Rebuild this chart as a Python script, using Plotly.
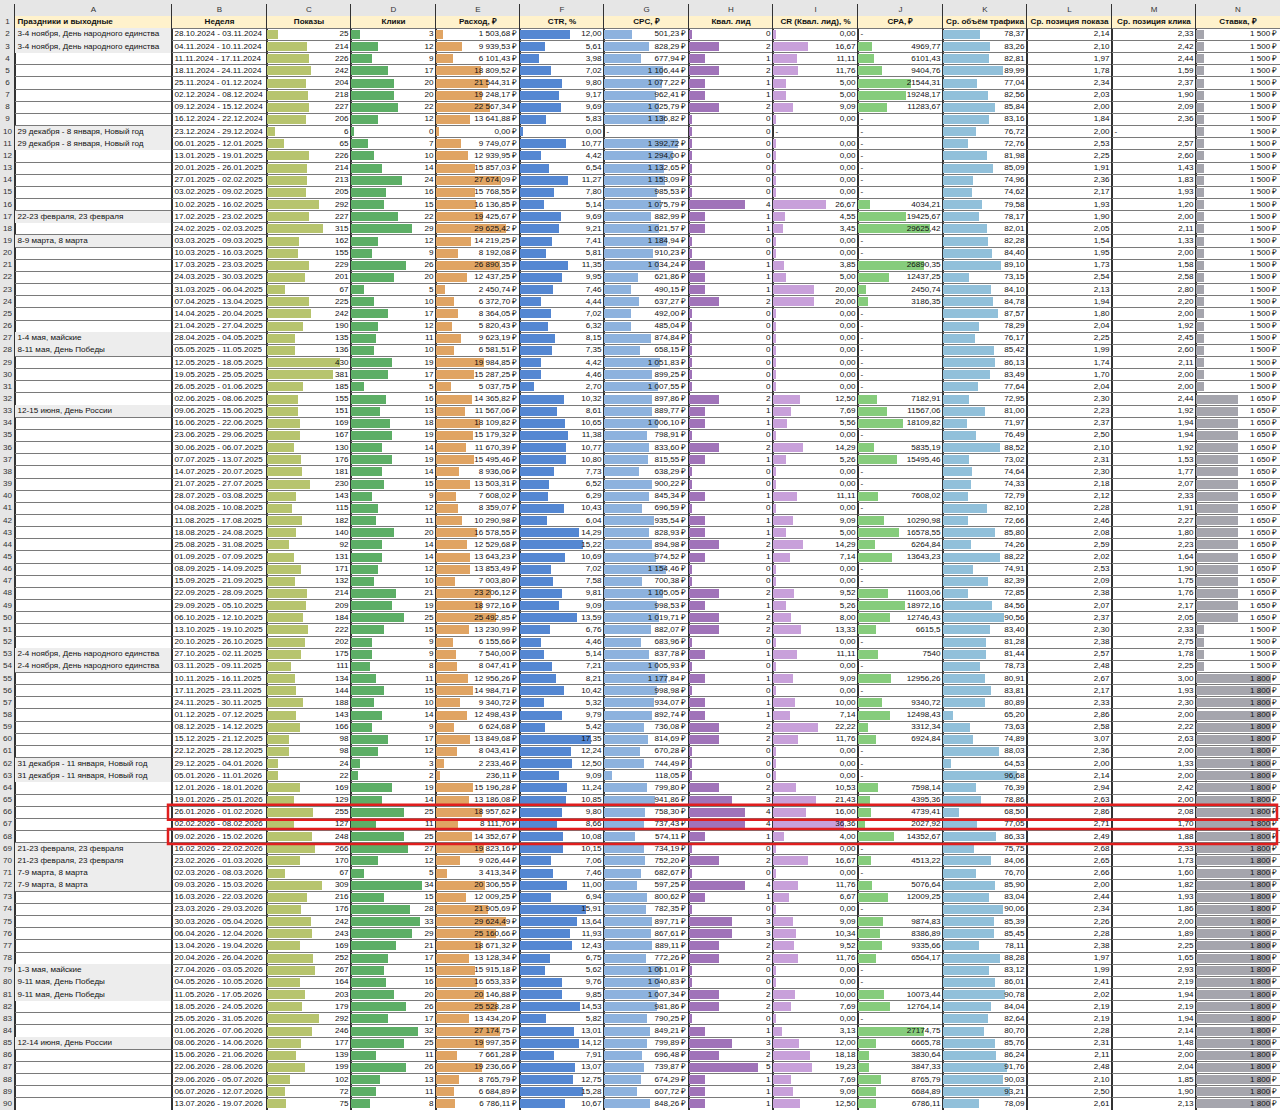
import plotly.graph_objects as go

# spreadsheet rows 2..90
rows = list(range(2, 91))

holidays = {
    2: "3-4 ноября, День народного единства",
    3: "3-4 ноября, День народного единства",
    10: "29 декабря - 8 января, Новый год",
    11: "29 декабря - 8 января, Новый год",
    17: "22-23 февраля, 23 февраля",
    19: "8-9 марта, 8 марта",
    27: "1-4 мая, майские",
    28: "8-11 мая, День Победы",
    33: "12-15 июня, День России",
    53: "2-4 ноября, День народного единства",
    54: "2-4 ноября, День народного единства",
    62: "31 декабря - 11 января, Новый год",
    63: "31 декабря - 11 января, Новый год",
    69: "21-23 февраля, 23 февраля",
    70: "21-23 февраля, 23 февраля",
    71: "7-9 марта, 8 марта",
    72: "7-9 марта, 8 марта",
    79: "1-3 мая, майские",
    80: "9-11 мая, День Победы",
    81: "9-11 мая, День Победы",
    85: "12-14 июня, День России",
}

weeks = [
    "28.10.2024 - 03.11.2024", "04.11.2024 - 10.11.2024", "11.11.2024 - 17.11.2024",
    "18.11.2024 - 24.11.2024", "25.11.2024 - 01.12.2024", "02.12.2024 - 08.12.2024",
    "09.12.2024 - 15.12.2024", "16.12.2024 - 22.12.2024", "23.12.2024 - 29.12.2024",
    "06.01.2025 - 12.01.2025", "13.01.2025 - 19.01.2025", "20.01.2025 - 26.01.2025",
    "27.01.2025 - 02.02.2025", "03.02.2025 - 09.02.2025", "10.02.2025 - 16.02.2025",
    "17.02.2025 - 23.02.2025", "24.02.2025 - 02.03.2025", "03.03.2025 - 09.03.2025",
    "10.03.2025 - 16.03.2025", "17.03.2025 - 23.03.2025", "24.03.2025 - 30.03.2025",
    "31.03.2025 - 06.04.2025", "07.04.2025 - 13.04.2025", "14.04.2025 - 20.04.2025",
    "21.04.2025 - 27.04.2025", "28.04.2025 - 04.05.2025", "05.05.2025 - 11.05.2025",
    "12.05.2025 - 18.05.2025", "19.05.2025 - 25.05.2025", "26.05.2025 - 01.06.2025",
    "02.06.2025 - 08.06.2025", "09.06.2025 - 15.06.2025", "16.06.2025 - 22.06.2025",
    "23.06.2025 - 29.06.2025", "30.06.2025 - 06.07.2025", "07.07.2025 - 13.07.2025",
    "14.07.2025 - 20.07.2025", "21.07.2025 - 27.07.2025", "28.07.2025 - 03.08.2025",
    "04.08.2025 - 10.08.2025", "11.08.2025 - 17.08.2025", "18.08.2025 - 24.08.2025",
    "25.08.2025 - 31.08.2025", "01.09.2025 - 07.09.2025", "08.09.2025 - 14.09.2025",
    "15.09.2025 - 21.09.2025", "22.09.2025 - 28.09.2025", "29.09.2025 - 05.10.2025",
    "06.10.2025 - 12.10.2025", "13.10.2025 - 19.10.2025", "20.10.2025 - 26.10.2025",
    "27.10.2025 - 02.11.2025", "03.11.2025 - 09.11.2025", "10.11.2025 - 16.11.2025",
    "17.11.2025 - 23.11.2025", "24.11.2025 - 30.11.2025", "01.12.2025 - 07.12.2025",
    "08.12.2025 - 14.12.2025", "15.12.2025 - 21.12.2025", "22.12.2025 - 28.12.2025",
    "29.12.2025 - 04.01.2026", "05.01.2026 - 11.01.2026", "12.01.2026 - 18.01.2026",
    "19.01.2026 - 25.01.2026", "26.01.2026 - 01.02.2026", "02.02.2026 - 08.02.2026",
    "09.02.2026 - 15.02.2026", "16.02.2026 - 22.02.2026", "23.02.2026 - 01.03.2026",
    "02.03.2026 - 08.03.2026", "09.03.2026 - 15.03.2026", "16.03.2026 - 22.03.2026",
    "23.03.2026 - 29.03.2026", "30.03.2026 - 05.04.2026", "06.04.2026 - 12.04.2026",
    "13.04.2026 - 19.04.2026", "20.04.2026 - 26.04.2026", "27.04.2026 - 03.05.2026",
    "04.05.2026 - 10.05.2026", "11.05.2026 - 17.05.2026", "18.05.2026 - 24.05.2026",
    "25.05.2026 - 31.05.2026", "01.06.2026 - 07.06.2026", "08.06.2026 - 14.06.2026",
    "15.06.2026 - 21.06.2026", "22.06.2026 - 28.06.2026", "29.06.2026 - 05.07.2026",
    "06.07.2026 - 12.07.2026", "13.07.2026 - 19.07.2026",
]

shows = [25, 214, 226, 242, 204, 218, 227, 206, 6, 65,
         226, 214, 213, 205, 292, 227, 315, 162, 155, 229,
         201, 67, 225, 242, 190, 135, 136, 430, 381, 185,
         155, 151, 169, 167, 130, 176, 181, 230, 143, 115,
         182, 140, 92, 131, 171, 132, 214, 209, 184, 222,
         202, 175, 111, 134, 144, 188, 143, 166, 98, 98,
         24, 22, 169, 129, 255, 127, 248, 266, 170, 67,
         309, 216, 176, 242, 243, 169, 252, 267, 164, 203,
         179, 292, 246, 177, 139, 199, 102, 72, 75]

clicks = [3, 12, 9, 17, 20, 20, 22, 12, 0, 7,
          10, 14, 24, 16, 15, 22, 29, 12, 9, 26,
          20, 5, 10, 17, 12, 11, 10, 19, 17, 5,
          16, 13, 18, 19, 14, 19, 14, 15, 9, 12,
          11, 20, 14, 14, 12, 10, 21, 19, 25, 15,
          9, 9, 8, 11, 15, 10, 14, 9, 17, 12,
          3, 2, 19, 14, 25, 11, 25, 27, 12, 5,
          34, 15, 28, 33, 29, 21, 17, 15, 16, 20,
          26, 17, 32, 25, 11, 26, 13, 11, 8]

cost = [1503.68, 9939.53, 6101.43, 18809.52, 21544.31, 19248.17, 22567.34, 13641.88, 0.00, 9749.07,
        12939.95, 15857.03, 27674.09, 15768.55, 16136.85, 19425.67, 29625.42, 14219.25, 8192.08, 26890.35,
        12437.25, 2450.74, 6372.70, 8364.05, 5820.43, 9623.19, 6581.51, 19984.85, 15287.25, 5037.75,
        14365.82, 11567.06, 18109.82, 15179.32, 11670.39, 15495.46, 8936.06, 13503.31, 7608.02, 8359.07,
        10290.98, 16578.55, 12529.68, 13643.23, 13853.49, 7003.80, 23206.12, 18972.16, 25492.85, 13230.99,
        6155.66, 7540.00, 8047.41, 12956.26, 14984.71, 9340.72, 12498.43, 6624.68, 13849.68, 8043.41,
        2233.46, 236.11, 15196.28, 13186.08, 18957.62, 8111.70, 14352.67, 19823.16, 9026.44, 3413.34,
        20306.55, 12009.25, 21905.69, 29624.49, 25160.66, 18671.32, 13128.34, 15915.18, 16653.33, 20146.88,
        25528.28, 13434.20, 27174.75, 19997.35, 7661.28, 19236.66, 8765.79, 6684.89, 6786.11]

ctr = [12.00, 5.61, 3.98, 7.02, 9.80, 9.17, 9.69, 5.83, 0.00, 10.77,
       4.42, 6.54, 11.27, 7.80, 5.14, 9.69, 9.21, 7.41, 5.81, 11.35,
       9.95, 7.46, 4.44, 7.02, 6.32, 8.15, 7.35, 4.42, 4.46, 2.70,
       10.32, 8.61, 10.65, 11.38, 10.77, 10.80, 7.73, 6.52, 6.29, 10.43,
       6.04, 14.29, 15.22, 10.69, 7.02, 7.58, 9.81, 9.09, 13.59, 6.76,
       4.46, 5.14, 7.21, 8.21, 10.42, 5.32, 9.79, 5.42, 17.35, 12.24,
       12.50, 9.09, 11.24, 10.85, 9.80, 8.66, 10.08, 10.15, 7.06, 7.46,
       11.00, 6.94, 15.91, 13.64, 11.93, 12.43, 6.75, 5.62, 9.76, 9.85,
       14.53, 5.82, 13.01, 14.12, 7.91, 13.07, 12.75, 15.28, 10.67]

cpc = [501.23, 828.29, 677.94, 1106.44, 1077.22, 962.41, 1025.79, 1136.82, None, 1392.72,
       1294.00, 1132.65, 1153.09, 985.53, 1075.79, 882.99, 1021.57, 1184.94, 910.23, 1034.24,
       621.86, 490.15, 637.27, 492.00, 485.04, 874.84, 658.15, 1051.83, 899.25, 1007.55,
       897.86, 889.77, 1006.10, 798.91, 833.60, 815.55, 638.29, 900.22, 845.34, 696.59,
       935.54, 828.93, 894.98, 974.52, 1154.46, 700.38, 1105.05, 998.53, 1019.71, 882.07,
       683.96, 837.78, 1005.93, 1177.84, 998.98, 934.07, 892.74, 736.08, 814.69, 670.28,
       744.49, 118.05, 799.80, 941.86, 758.30, 737.43, 574.11, 734.19, 752.20, 682.67,
       597.25, 800.62, 782.35, 897.71, 867.61, 889.11, 772.26, 1061.01, 1040.83, 1007.34,
       981.86, 790.25, 849.21, 799.89, 696.48, 739.87, 674.29, 607.72, 848.26]

leads = [0, 2, 1, 2, 1, 1, 2, 0, 0, 0,
         0, 0, 0, 0, 4, 1, 1, 0, 0, 1,
         1, 1, 2, 0, 0, 0, 0, 0, 0, 0,
         2, 1, 1, 0, 2, 1, 0, 0, 1, 0,
         1, 1, 2, 1, 0, 0, 2, 1, 2, 2,
         0, 1, 0, 1, 0, 1, 1, 2, 2, 0,
         0, 0, 2, 3, 4, 4, 1, 0, 2, 0,
         4, 1, 0, 3, 3, 2, 2, 0, 0, 2,
         2, 0, 1, 3, 2, 5, 1, 1, 1]

cr = [0.00, 16.67, 11.11, 11.76, 5.00, 5.00, 9.09, 0.00, None, 0.00,
      0.00, 0.00, 0.00, 0.00, 26.67, 4.55, 3.45, 0.00, 0.00, 3.85,
      5.00, 20.00, 20.00, 0.00, 0.00, 0.00, 0.00, 0.00, 0.00, 0.00,
      12.50, 7.69, 5.56, 0.00, 14.29, 5.26, 0.00, 0.00, 11.11, 0.00,
      9.09, 5.00, 14.29, 7.14, 0.00, 0.00, 9.52, 5.26, 8.00, 13.33,
      0.00, 11.11, 0.00, 9.09, 0.00, 10.00, 7.14, 22.22, 11.76, 0.00,
      0.00, 0.00, 10.53, 21.43, 16.00, 36.36, 4.00, 0.00, 16.67, 0.00,
      11.76, 6.67, 0.00, 9.09, 10.34, 9.52, 11.76, 0.00, 0.00, 10.00,
      7.69, 0.00, 3.13, 12.00, 18.18, 19.23, 7.69, 9.09, 12.50]

cpa = [None, 4969.77, 6101.43, 9404.76, 21544.31, 19248.17, 11283.67, None, None, None,
       None, None, None, None, 4034.21, 19425.67, 29625.42, None, None, 26890.35,
       12437.25, 2450.74, 3186.35, None, None, None, None, None, None, None,
       7182.91, 11567.06, 18109.82, None, 5835.19, 15495.46, None, None, 7608.02, None,
       10290.98, 16578.55, 6264.84, 13643.23, None, None, 11603.06, 18972.16, 12746.43, 6615.5,
       None, 7540, None, 12956.26, None, 9340.72, 12498.43, 3312.34, 6924.84, None,
       None, None, 7598.14, 4395.36, 4739.41, 2027.92, 14352.67, None, 4513.22, None,
       5076.64, 12009.25, None, 9874.83, 8386.89, 9335.66, 6564.17, None, None, 10073.44,
       12764.14, None, 27174.75, 6665.78, 3830.64, 3847.33, 8765.79, 6684.89, 6786.11]

traffic = [78.37, 83.26, 82.81, 89.99, 77.04, 82.56, 85.84, 83.16, 76.72, 72.76,
           81.98, 85.09, 74.96, 74.62, 79.58, 78.17, 82.01, 82.28, 84.40, 89.10,
           73.15, 84.10, 84.78, 87.57, 78.29, 76.17, 85.42, 86.13, 83.49, 77.64,
           72.95, 81.00, 71.97, 76.49, 88.52, 73.02, 74.64, 74.33, 72.79, 82.10,
           72.66, 85.80, 74.26, 88.22, 74.91, 82.39, 72.85, 84.56, 90.56, 83.40,
           81.28, 81.44, 78.73, 80.91, 83.81, 80.89, 65.20, 73.63, 74.89, 88.03,
           64.53, 96.68, 76.39, 78.86, 68.50, 77.05, 86.33, 75.75, 84.06, 76.70,
           85.90, 83.04, 90.06, 85.39, 85.45, 78.11, 88.28, 83.12, 86.01, 90.78,
           84.04, 82.64, 80.70, 85.76, 86.24, 91.76, 90.03, 93.21, 78.09]

pos_show = [2.14, 2.10, 1.97, 1.78, 2.34, 2.03, 2.00, 1.84, 2.00, 2.53,
            2.25, 1.91, 2.36, 2.17, 1.93, 1.90, 2.05, 1.54, 1.95, 1.73,
            2.54, 2.13, 1.94, 1.80, 2.04, 2.25, 1.99, 1.74, 1.70, 2.04,
            2.30, 2.23, 2.37, 2.50, 2.10, 2.31, 2.30, 2.18, 2.12, 2.28,
            2.46, 2.08, 2.59, 2.02, 2.53, 2.09, 2.38, 2.07, 2.37, 2.30,
            2.38, 2.57, 2.48, 2.67, 2.17, 2.33, 2.86, 2.58, 3.07, 2.36,
            2.00, 2.14, 2.94, 2.63, 2.86, 2.71, 2.49, 2.68, 2.65, 2.66,
            2.00, 2.44, 2.34, 2.26, 2.28, 2.38, 1.97, 1.99, 2.41, 2.02,
            2.19, 2.19, 2.28, 2.31, 2.11, 2.48, 2.10, 2.50, 2.61]

pos_click = [2.33, 2.42, 2.44, 1.59, 2.37, 1.90, 2.09, 2.36, None, 2.57,
             2.60, 1.43, 1.83, 1.93, 1.20, 2.00, 2.11, 1.33, 2.00, 1.58,
             2.58, 2.80, 2.20, 2.00, 1.92, 2.45, 2.60, 2.11, 2.00, 2.00,
             2.44, 1.92, 1.94, 1.94, 1.92, 1.53, 1.77, 2.07, 2.33, 1.91,
             2.27, 1.80, 2.23, 1.64, 1.90, 1.75, 1.76, 2.17, 2.05, 2.33,
             2.75, 1.78, 2.25, 3.00, 1.93, 2.30, 2.00, 2.22, 2.63, 2.00,
             1.33, 2.00, 2.42, 2.00, 2.08, 1.70, 1.88, 2.33, 1.73, 1.60,
             1.82, 1.93, 1.86, 2.00, 1.89, 2.25, 1.65, 2.93, 2.19, 1.94,
             2.19, 1.94, 2.14, 1.48, 2.00, 2.04, 1.85, 1.90, 2.13]

bid = [1500, 1500, 1500, 1500, 1500, 1500, 1500, 1500, 1500, 1500,
       1500, 1500, 1500, 1500, 1500, 1500, 1500, 1500, 1500, 1500,
       1500, 1500, 1500, 1500, 1500, 1500, 1500, 1500, 1500, 1500,
       1650, 1650, 1650, 1650, 1650, 1650, 1650, 1650, 1650, 1650,
       1650, 1650, 1650, 1650, 1650, 1650, 1650, 1650, 1650, 1500,
       1500, 1500, 1500, 1800, 1800, 1800, 1800, 1800, 1800, 1800,
       1800, 1800, 1800, 1800, 1800, 1800, 1800, 1800, 1800, 1800,
       1800, 1800, 1800, 1800, 1800, 1800, 1800, 1800, 1800, 1800,
       1800, 1800, 1800, 1800, 1800, 1800, 1800, 1800, 1800]

highlight_rows = [66, 68]

# ---------------------------------------------------------------------------
# Sheet geometry (pixels) and style
# ---------------------------------------------------------------------------
W_PX, H_PX, TOP_PX = 1280, 1110, 4
LAST_ROW = 90
# row-number column, then A..N
col_edges = [0, 15, 172, 267, 351, 436, 520, 604, 689, 773, 858, 943, 1027, 1112, 1196, 1280]
letters = ["A", "B", "C", "D", "E", "F", "G", "H", "I", "J", "K", "L", "M", "N"]

FONT = "Liberation Sans, Arial, sans-serif"
FS = 8.1
TXT = "#111111"
HEAD_GREY = "#E6E6E6"
HEAD_YELLOW = "#FFF2CC"
HOLIDAY_GREY = "#EDEDED"
GRID = "#7A7A7A"
BORDER = "#333333"


def fmt_int(v):
    return str(v)


def fmt_dec(v):
    return f"{v:.2f}".replace(".", ",")


def fmt_rub(v):
    return f"{v:,.2f}".replace(",", "\u00a0").replace(".", ",") + "\u00a0₽"


def fmt_rub0(v):
    return f"{v:,.0f}".replace(",", "\u00a0") + "\u00a0₽"


def fmt_gen(v):
    s = f"{v:.2f}".rstrip("0").rstrip(".")
    return s.replace(".", ",")


specs = [
    dict(head="Праздники и выходные", labels=[holidays.get(r, "") for r in rows]),
    dict(head="Неделя", labels=weeks),
    dict(head="Показы", values=shows, fmt=fmt_int, color="#B7C46E", fmin=0.10, fmax=0.87),
    dict(head="Клики", values=clicks, fmt=fmt_int, color="#5DAE66", fmin=0.04, fmax=0.83),
    dict(head="Расход, ₽", values=cost, fmt=fmt_rub, color="#E0A463", fmin=0.04, fmax=0.83),
    dict(head="CTR, %", values=ctr, fmt=fmt_dec, color="#5487D2", fmin=0.04, fmax=0.85),
    dict(head="CPC, ₽", values=cpc, fmt=fmt_rub, color="#8DB2DE", fmin=0.09, fmax=0.87),
    dict(head="Квал. лид", values=leads, fmt=fmt_int, color="#A073B9", fmin=0.04, fmax=0.82),
    dict(head="CR (Квал. лид), %", values=cr, fmt=fmt_dec, color="#C8A0DA", fmin=0.04, fmax=0.84),
    dict(head="CPA, ₽", values=cpa, fmt=fmt_gen, color="#86CC7C", fmin=0.08, fmax=0.85),
    dict(head="Ср. объём трафика", values=traffic, fmt=fmt_dec, color="#91C0DA", fmin=0.10, fmax=0.88),
    dict(head="Ср. позиция показа", values=pos_show, fmt=fmt_dec),
    dict(head="Ср. позиция клика", values=pos_click, fmt=fmt_dec),
    dict(head="Ставка, ₽", values=bid, fmt=fmt_rub0, color="#A5A5AD", fmin=0.10, fmax=0.89),
]

# axis ranges: bars start at the cell's left edge, Excel-style min/max lengths
ranges = [(0.0, 1.0)]
for sp in specs:
    if sp.get("color"):
        vals = [v for v in sp["values"] if v is not None]
        vmin, vmax = min(vals), max(vals)
        span = (vmax - vmin) / (sp["fmax"] - sp["fmin"])
        lo = vmin - sp["fmin"] * span
        ranges.append((lo, lo + span))
    else:
        ranges.append((0.0, 1.0))

widths = [col_edges[i + 1] - col_edges[i] for i in range(15)]

fig = go.Figure()


def sfx(i):
    return "" if i == 0 else str(i + 1)


def add_bg(i, ys, color, width=1.0):
    lo, hi = ranges[i]
    fig.add_trace(go.Bar(
        y=ys, x=[hi - lo] * len(ys), base=lo, orientation="h", width=width,
        marker=dict(color=color, line=dict(width=0)),
        xaxis="x" + sfx(i), yaxis="y" + sfx(i),
        hoverinfo="skip", showlegend=False,
    ))


def add_text(i, ys, texts, align, color=TXT, size=FS):
    if not ys:
        return
    lo, hi = ranges[i]
    pad = 2.5 * (hi - lo) / widths[i]
    if align == "right":
        x, pos = hi - pad, "middle left"
    elif align == "left":
        x, pos = lo + pad, "middle right"
    else:
        x, pos = (lo + hi) / 2, "middle center"
    fig.add_trace(go.Scatter(
        x=[x] * len(ys), y=ys, text=texts, mode="text", textposition=pos,
        textfont=dict(family=FONT, size=size, color=color),
        xaxis="x" + sfx(i), yaxis="y" + sfx(i),
        hoverinfo="skip", showlegend=False,
    ))


# ---- row-number column ----
add_bg(0, list(range(0, LAST_ROW + 1)), HEAD_GREY)
add_text(0, list(range(1, LAST_ROW + 1)), [str(r) for r in range(1, LAST_ROW + 1)], "center", "#333333")

# ---- sheet columns A..N ----
for k, sp in enumerate(specs):
    i = k + 1
    add_bg(i, [0], HEAD_GREY)
    add_bg(i, [1], HEAD_YELLOW)
    add_text(i, [0], [letters[k]], "center", "#333333", 8)
    add_text(i, [1], ["<b>" + sp["head"] + "</b>"], "left" if k == 0 else "center")

    if "labels" in sp:
        if k == 0:
            add_bg(i, [r for r in rows if r in holidays], HOLIDAY_GREY)
        ys = [r for r, t in zip(rows, sp["labels"]) if t]
        add_text(i, ys, [t for t in sp["labels"] if t], "left")
        continue

    vals = sp["values"]
    have = [(r, v) for r, v in zip(rows, vals) if v is not None]
    if sp.get("color"):
        lo, hi = ranges[i]
        fig.add_trace(go.Bar(
            y=[r for r, _ in have], x=[v - lo for _, v in have], base=lo,
            orientation="h", width=0.74,
            marker=dict(color=sp["color"], line=dict(width=0)),
            xaxis="x" + sfx(i), yaxis="y" + sfx(i),
            hoverinfo="skip", showlegend=False,
        ))
    add_text(i, [r for r, _ in have], [sp["fmt"](v) for _, v in have], "right")
    dash_rows = [r for r, v in zip(rows, vals) if v is None]
    add_text(i, dash_rows, ["-"] * len(dash_rows), "left")

# ---- axes: one column per subplot, shared row scale ----
layout_axes = {}
for i in range(15):
    lo, hi = ranges[i]
    layout_axes["xaxis" + sfx(i)] = dict(
        domain=[col_edges[i] / W_PX, col_edges[i + 1] / W_PX],
        range=[lo, hi], anchor="y" + sfx(i),
        showgrid=False, zeroline=False, showticklabels=False, ticks="",
        showline=False, fixedrange=True,
    )
    layout_axes["yaxis" + sfx(i)] = dict(
        domain=[0, 1], range=[LAST_ROW + 0.5, -0.5], anchor="x" + sfx(i),
        tickmode="linear", tick0=0.5, dtick=1,
        showgrid=True, gridcolor=GRID, gridwidth=1,
        zeroline=False, showticklabels=False, ticks="",
        showline=True, mirror=True, linecolor=BORDER, linewidth=1,
        fixedrange=True,
        **({"matches": "y"} if i else {}),
    )

# red frames around the highlighted weeks (columns B..N)
shapes = [
    dict(
        type="rect", xref="paper", yref="y",
        x0=(col_edges[2] - 4) / W_PX, x1=(W_PX - 3) / W_PX,
        y0=r - 0.62, y1=r + 0.62,
        line=dict(color="#E01E1E", width=2.5), fillcolor="rgba(0,0,0,0)",
    )
    for r in highlight_rows
]

fig.update_layout(
    width=W_PX, height=H_PX, autosize=False,
    margin=dict(l=0, r=0, t=TOP_PX, b=0, pad=0),
    paper_bgcolor=HEAD_GREY, plot_bgcolor="#FFFFFF",
    barmode="overlay", bargap=0,
    showlegend=False, hovermode=False,
    font=dict(family=FONT, size=FS, color=TXT),
    shapes=shapes,
    **layout_axes,
)

fig.write_html(
    "out.html",
    config={"displayModeBar": False, "staticPlot": True},
    post_script="document.body.style.margin='0';",
)
